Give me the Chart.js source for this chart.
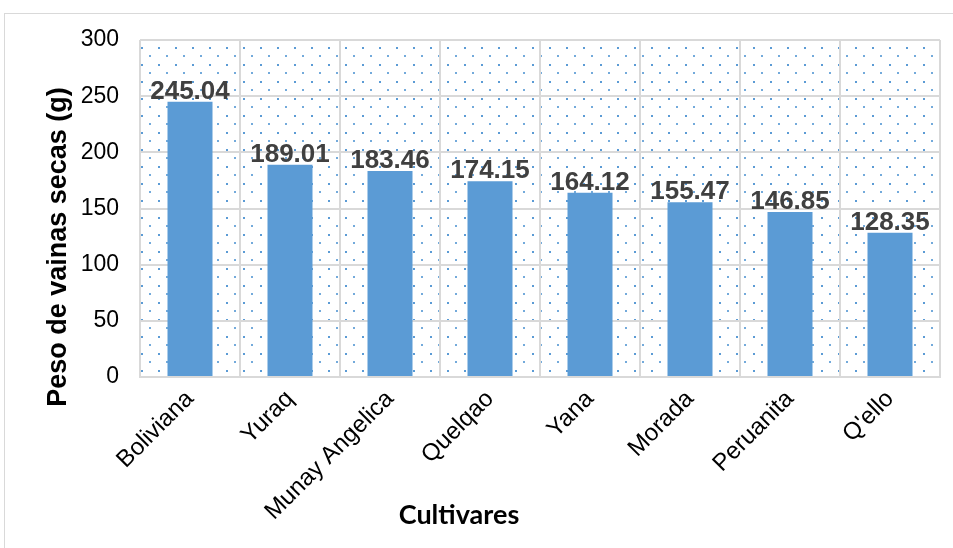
<!DOCTYPE html>
<html lang="es">
<head>
  <meta charset="UTF-8" />
  <title>Peso de vainas secas por cultivar</title>
  <script src="https://cdn.jsdelivr.net/npm/chart.js"></script>
  <style>
    html, body { margin: 0; padding: 0; background: #fff; }
    body { width: 953px; height: 548px; position: relative; overflow: hidden; }
    .frame { position: absolute; left: 4px; top: 13px; width: 980px; height: 580px; border: 1px solid #d9d9d9; box-sizing: border-box; }
    #wrap { position: absolute; left: 0; top: 0; width: 953px; height: 548px; }
  </style>
</head>
<body>
<div class="frame"></div>
<div id="wrap"><canvas id="vainasChart"></canvas></div>

<script>
  const cultivares = ["Boliviana", "Yuraq", "Munay Angelica", "Quelqao", "Yana", "Morada", "Peruanita", "Q'ello"];
  const pesoVainas = [245.04, 189.01, 183.46, 174.15, 164.12, 155.47, 146.85, 128.35];
  const yMin = 0, yMax = 300, yStep = 50;
  const yTitle = "Peso de vainas secas (g)";
  const xTitle = "Cultivares";

  // dotted fill of the plot area (Excel "5%" pattern look)
  function makeDots() {
    const c = document.createElement("canvas");
    c.width = 17; c.height = 17;
    const g = c.getContext("2d");
    g.fillStyle = "rgba(91,155,213,1)";
    g.fillRect(0, 0, 2, 2);
    g.fillStyle = "rgba(91,155,213,0.85)";
    g.fillRect(8, 8, 2, 2);
    return c;
  }
  const dotTile = makeDots();

  const plotBackground = {
    id: "plotBackground",
    beforeDraw(chart) {
      const { ctx, chartArea: a } = chart;
      const pat = ctx.createPattern(dotTile, "repeat");
      ctx.save();
      ctx.translate(a.left + 1, a.top + 7);
      ctx.fillStyle = pat;
      ctx.fillRect(-1, -7, a.right - a.left, a.bottom - a.top);
      ctx.restore();
    }
  };

  const valueLabels = {
    id: "valueLabels",
    afterDatasetsDraw(chart) {
      const { ctx } = chart;
      const meta = chart.getDatasetMeta(0);
      ctx.save();
      ctx.font = "bold 26px 'Liberation Sans', Arial, sans-serif";
      ctx.fillStyle = "#404040";
      ctx.textAlign = "center";
      ctx.textBaseline = "alphabetic";
      meta.data.forEach((bar, i) => {
        ctx.fillText(pesoVainas[i].toFixed(2), bar.x, bar.y - 3);
      });
      ctx.restore();
    }
  };

  // axis titles, placed the way the original spreadsheet chart had them
  const axisTitles = {
    id: "axisTitles",
    afterDraw(chart) {
      const { ctx } = chart;
      ctx.save();
      ctx.fillStyle = "#000";
      ctx.textAlign = "center";
      ctx.textBaseline = "middle";
      ctx.font = "bold 27px 'Liberation Sans', Arial, sans-serif";
      ctx.translate(59, 247);
      ctx.rotate(-Math.PI / 2);
      ctx.fillText(yTitle, 0, 0);
      ctx.restore();

      ctx.save();
      ctx.fillStyle = "#000";
      ctx.textAlign = "center";
      ctx.textBaseline = "middle";
      ctx.font = "bold 27px Lato, 'Open Sans', sans-serif";
      ctx.fillText(xTitle, 459, 515);
      ctx.restore();
    }
  };

  const ctx = document.getElementById("vainasChart").getContext("2d");
  const chart = new Chart(ctx, {
    type: "bar",
    data: {
      labels: cultivares,
      datasets: [{
        data: pesoVainas,
        backgroundColor: "#5b9bd5",
        borderWidth: 0,
        barPercentage: 0.45,
        categoryPercentage: 1
      }]
    },
    options: {
      responsive: true,
      maintainAspectRatio: false,
      animation: false,
      devicePixelRatio: 1,
      layout: { padding: { left: 0, top: 40, right: 13, bottom: 0 } },
      plugins: {
        legend: { display: false },
        tooltip: { enabled: false }
      },
      scales: {
        x: {
          grid: { offset: true, color: "#d9d9d9", lineWidth: 2, drawTicks: false },
          border: { color: "#d9d9d9", width: 2 },
          ticks: {
            color: "#000",
            font: { family: "'Liberation Sans', Arial, sans-serif", size: 24 },
            minRotation: 45,
            maxRotation: 45,
            padding: 8
          },
          afterFit(scale) { scale.height = 171; }
        },
        y: {
          min: yMin,
          max: yMax,
          grid: { color: "#d9d9d9", lineWidth: 2, drawTicks: false },
          border: { display: false },
          ticks: {
            stepSize: yStep,
            color: "#000",
            font: { family: "'Liberation Sans', Arial, sans-serif", size: 23 },
            padding: 21
          },
          afterFit(scale) { scale.width = 140; }
        }
      }
    },
    plugins: [plotBackground, valueLabels, axisTitles]
  });
</script>
</body>
</html>
